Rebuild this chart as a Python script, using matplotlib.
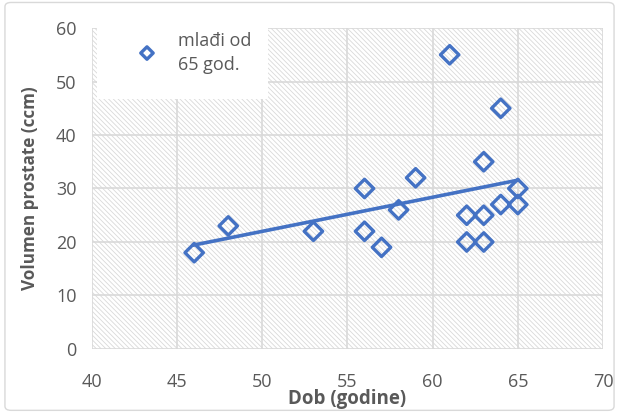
import matplotlib
matplotlib.use("Agg")
import matplotlib.pyplot as plt
import numpy as np
from matplotlib.patches import Rectangle, FancyBboxPatch

age = [46, 48, 53, 56, 56, 57, 58, 59, 61, 62, 62, 63, 63, 63, 64, 64, 65, 65]
volume = [18, 23, 22, 30, 22, 19, 26, 32, 55, 25, 20, 35, 25, 20, 45, 27, 30, 27]
series_label = "mlađi od\n65 god."
x_ticks = [40, 45, 50, 55, 60, 65, 70]
y_ticks = [0, 10, 20, 30, 40, 50, 60]

plt.rcParams['font.family'] = ['Open Sans', 'DejaVu Sans']
plt.rcParams['hatch.linewidth'] = 0.6
plt.rcParams['hatch.color'] = '#d9d9d9'

blue = '#4472C4'
grey_text = '#595959'

fig = plt.figure(figsize=(6.19, 4.12), dpi=100)
fig.patch.set_facecolor('white')
fig.patches.append(FancyBboxPatch((0.008, 0.004), 0.984, 0.99, boxstyle="round,pad=0,rounding_size=0.01",
                                  transform=fig.transFigure, fill=False, edgecolor='#d9d9d9', linewidth=1))

ax = fig.add_axes([0.1486, 0.153, 0.8255, 0.779])
ax.set_xlim(40, 70)
ax.set_ylim(0, 60)
ax.add_patch(Rectangle((0, 0), 1, 1, transform=ax.transAxes, facecolor='white',
                       hatch='\\' * 7, edgecolor='#d9d9d9', linewidth=0, zorder=0))
ax.set_xticks(x_ticks)
ax.set_yticks(y_ticks)
ax.grid(True, color='#d9d9d9', linewidth=1.2, zorder=1)
ax.set_axisbelow(True)
for s in ax.spines.values():
    s.set_visible(False)
ax.tick_params(length=0, labelsize=13, labelcolor=grey_text)
ax.tick_params(axis='x', pad=17)
ax.tick_params(axis='y', pad=11)

ax.scatter(age, volume, marker='D', s=88, facecolors='none', edgecolors=blue, linewidths=2.4, zorder=4)
coef = np.polyfit(age, volume, 1)
xl = np.array([min(age), max(age)])
ax.plot(xl, np.polyval(coef, xl), color=blue, linewidth=2.6, zorder=3)

ax.set_xlabel("Dob (godine)", fontsize=13.5, fontweight='bold', color=grey_text, va='center')
ax.xaxis.set_label_coords(0.5, -0.156)
ax.set_ylabel("Volumen prostate (ccm)", fontsize=12.3, fontweight='bold', color=grey_text, va='center')
ax.yaxis.set_label_coords(-0.122, 0.5)

# legend box
ax.add_patch(Rectangle((0.010, 0.778), 0.335, 0.222, transform=ax.transAxes, facecolor='white',
                       edgecolor='none', zorder=5))
ax.scatter([0.1076], [0.922], transform=ax.transAxes, marker='D', s=40, facecolors='none',
           edgecolors=blue, linewidths=2.4, zorder=6)
ax.text(0.168, 0.922, series_label, transform=ax.transAxes, fontsize=13, color=grey_text,
        va='center', ha='left', zorder=6, linespacing=1.45)

fig.savefig("out.png", dpi=100)
